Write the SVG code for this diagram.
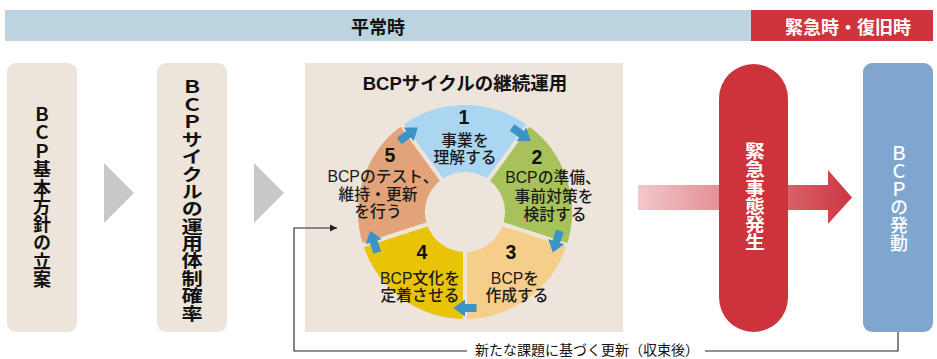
<svg xmlns="http://www.w3.org/2000/svg" width="937" height="359" viewBox="0 0 937 359">
<style>
text{font-family:"Liberation Sans","Noto Sans CJK JP",sans-serif;}
.band{font-size:18px;font-weight:bold;text-anchor:middle;}
.vt{writing-mode:vertical-rl;text-orientation:upright;text-anchor:middle;font-family:"Noto Sans CJK JP",sans-serif;}
.box{fill:#ede5dc;}
.tri{fill:#c7c8c8;}
.seg{stroke:#ede5dc;stroke-width:4;}
.st{font-size:15.8px;font-weight:500;text-anchor:middle;fill:#1a1a1a;}
.num{font-size:19.5px;font-weight:bold;text-anchor:middle;fill:#111;}
.cyc{fill:#3a94c6;}
.conn{fill:none;stroke:#222;stroke-width:1.1;}
</style>
<defs>
<linearGradient id="pg" gradientUnits="userSpaceOnUse" x1="638" y1="0" x2="852" y2="0">
<stop offset="0" stop-color="#f2c8cb"/>
<stop offset="1" stop-color="#cd3540"/>
</linearGradient>
<path id="ca" d="M-11.5,-4 H0 V-8.5 L11.5,0 L0,8.5 V4 H-11.5 Z"/>
<marker id="ah" viewBox="0 0 10 10" refX="10" refY="5" markerWidth="8" markerHeight="7" markerUnits="userSpaceOnUse" orient="auto">
<path d="M0,0 L10,5 L0,10 Z" fill="#222"/>
</marker>
</defs>

<g id="band-normal">
<rect x="5" y="10" width="746" height="31" fill="#bcd4df"/>
<text class="band" x="378" y="34" fill="#111">平常時</text>
</g>
<g id="band-emergency">
<rect x="751" y="10" width="182" height="31" fill="#cf343c"/>
<text class="band" x="848" y="34" fill="#fff">緊急時・復旧時</text>
</g>

<g id="step-policy">
<rect class="box" x="7" y="63" width="70" height="269" rx="9"/>
<text class="vt" x="42" y="197" font-size="18" font-weight="bold" letter-spacing="0.3" fill="#111">ＢＣＰ基本方針の立案</text>
</g>

<g id="step-organization">
<rect class="box" x="157" y="63" width="70" height="269" rx="9"/>
<text class="vt" x="192" y="200" font-size="17.4" font-weight="bold" fill="#111" transform="translate(192 0) scale(1.22 1) translate(-192 0)">ＢＣＰサイクルの運用体制確率</text>
</g>

<g id="cycle-panel">
<rect class="box" x="305" y="63" width="318" height="269"/>
<text x="465" y="90" font-size="18.5" font-weight="bold" text-anchor="middle" fill="#111">BCPサイクルの継続運用</text>
</g>

<g id="cycle-1">
<path class="seg" fill="#aad6f2" d="M400.93,123.82 A109,109 0 0 1 529.07,123.82 L487.34,181.26 A38,38 0 0 0 442.66,181.26 Z"/>
<text class="num" x="464" y="124">1</text>
<text class="st" x="465" y="146">事業を</text>
<text class="st" x="465" y="163">理解する</text>
</g>
<g id="cycle-2">
<path class="seg" fill="#a7c25a" d="M529.07,123.82 A109,109 0 0 1 568.67,245.68 L501.14,223.74 A38,38 0 0 0 487.34,181.26 Z"/>
<text class="num" x="537" y="164">2</text>
<text class="st" x="553" y="183">BCPの準備、</text>
<text class="st" x="554" y="202">事前対策を</text>
<text class="st" x="555" y="220">検討する</text>
</g>
<g id="cycle-3">
<path class="seg" fill="#f5cf8a" d="M568.67,245.68 A109,109 0 0 1 465,321 L465,250 A38,38 0 0 0 501.14,223.74 Z"/>
<text class="num" x="511" y="259">3</text>
<text class="st" x="515" y="284">BCPを</text>
<text class="st" x="517" y="301">作成する</text>
</g>
<g id="cycle-4">
<path class="seg" fill="#e9c305" d="M465,321 A109,109 0 0 1 361.33,245.68 L428.86,223.74 A38,38 0 0 0 465,250 Z"/>
<text class="num" x="422" y="259">4</text>
<text class="st" x="420" y="284">BCP文化を</text>
<text class="st" x="420" y="301">定着させる</text>
</g>
<g id="cycle-5">
<path class="seg" fill="#e3a378" d="M361.33,245.68 A109,109 0 0 1 400.93,123.82 L442.66,181.26 A38,38 0 0 0 428.86,223.74 Z"/>
<text class="num" x="390" y="162">5</text>
<text class="st" x="383" y="182">BCPのテスト、</text>
<text class="st" x="378" y="200">維持・更新</text>
<text class="st" x="378" y="217">を行う</text>
</g>
<circle cx="465" cy="212" r="39" fill="#ede5dc"/>

<g id="connectors">
<polygon class="tri" points="104,163 134,193 104,223"/>
<polygon class="tri" points="254,163 284,193 254,223"/>
<use href="#ca" class="cyc" transform="translate(521.43 134.33) rotate(36)"/>
<use href="#ca" class="cyc" transform="translate(556.3 241.67) rotate(108)"/>
<use href="#ca" class="cyc" transform="translate(465 308) rotate(180)"/>
<use href="#ca" class="cyc" transform="translate(373.7 241.67) rotate(252)"/>
<use href="#ca" class="cyc" transform="translate(408.57 134.33) rotate(324)"/>
<polygon fill="url(#pg)" points="638,185 828,185 828,170 852,197.5 828,224 828,210 638,210"/>
<polyline class="conn" points="467,351 294,351 294,228 337,228" marker-end="url(#ah)"/>
<polyline class="conn" points="705,351 898,351 898,332"/>
<text x="475" y="355" font-size="14" fill="#111" font-family="Noto Sans CJK JP, sans-serif">新たな課題に基づく更新（収束後）</text>
</g>

<g id="emergency">
<rect x="719" y="64" width="69" height="268" rx="34.5" fill="#cd333b"/>
<text class="vt" x="755" y="197" font-size="18" font-weight="bold" letter-spacing="0.3" fill="#fff" transform="translate(755 0) scale(1.1 1) translate(-755 0)">緊急事態発生</text>
</g>

<g id="activation">
<rect x="863" y="63" width="70" height="269" rx="9" fill="#7ea6cf"/>
<text class="vt" x="899" y="198" font-size="18" font-weight="500" fill="#fff">ＢＣＰの発動</text>
</g>
</svg>
